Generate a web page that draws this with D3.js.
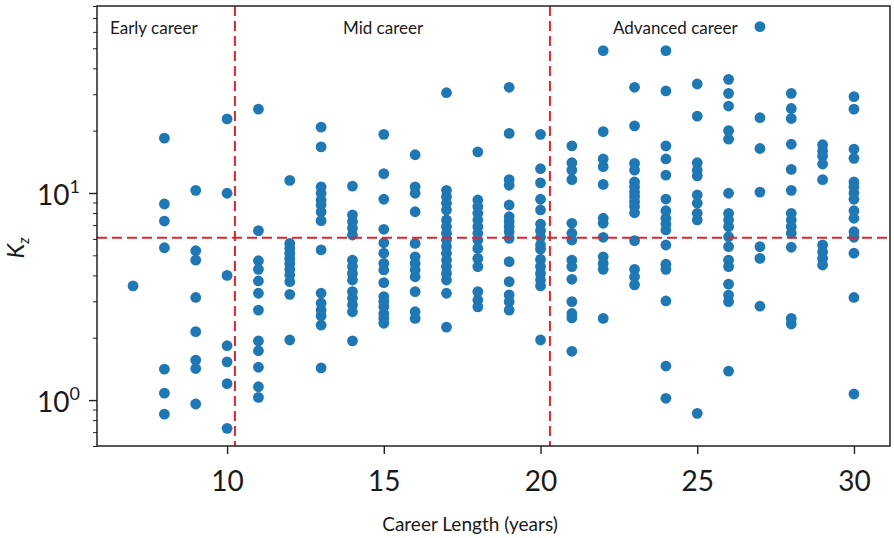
<!DOCTYPE html>
<html>
<head>
<meta charset="utf-8">
<script src="https://cdn.jsdelivr.net/npm/d3@7"></script>
<style>
  html, body { margin: 0; padding: 0; background: #fff; }
  svg { display: block; }
  text { font-family: Lato, "Open Sans", sans-serif; fill: #1a1a1a; }
</style>
</head>
<body>
<div id="chart"></div>
<script>
(() => {
  'use strict';

  // ── Data: one K_z column per career length ──
  const years = [7, 8, 9, 10, 11, 12, 13, 14, 15, 16, 17, 18, 19, 20, 21, 22, 23, 24, 25, 26, 27, 28, 29, 30];
  const kz = [
    [3.56],
    [18.4, 8.85, 7.32, 5.44, 1.41, 1.08, 0.855],
    [10.3, 5.26, 4.74, 3.13, 2.14, 1.56, 1.42, 0.957],
    [22.8, 9.97, 4.0, 1.83, 1.53, 1.2, 0.73],
    [25.4, 6.58, 4.71, 4.28, 3.76, 3.28, 2.72, 1.93, 1.73, 1.44, 1.16, 1.03],
    [11.5, 5.71, 5.4, 5.11, 4.83, 4.57, 4.28, 4.02, 3.73, 3.24, 1.95],
    [20.8, 16.7, 10.7, 9.97, 9.25, 8.75, 8.12, 7.35, 5.31, 3.28, 2.94, 2.72, 2.55, 2.3, 1.43],
    [10.8, 7.83, 7.27, 6.75, 6.27, 4.74, 4.41, 4.09, 3.8, 3.34, 3.1, 2.88, 2.67, 1.93],
    [19.2, 12.4, 9.33, 6.68, 5.75, 5.12, 4.57, 4.25, 3.69, 3.16, 2.99, 2.82, 2.62, 2.48, 2.35],
    [15.3, 10.7, 9.97, 8.12, 5.71, 4.92, 4.57, 4.25, 3.94, 3.34, 2.67, 2.48],
    [30.5, 10.3, 9.6, 8.92, 8.28, 7.41, 6.88, 6.39, 5.93, 5.51, 5.12, 4.74, 4.41, 4.09, 3.8, 3.28, 2.25],
    [15.8, 9.25, 8.59, 7.98, 7.41, 6.88, 6.39, 5.93, 5.4, 4.83, 4.41, 3.34, 3.04, 2.82],
    [32.4, 19.4, 11.6, 10.9, 8.75, 7.68, 7.27, 6.88, 6.5, 6.04, 4.66, 3.73, 3.22, 2.99, 2.72],
    [19.2, 13.1, 11.2, 9.33, 8.28, 7.08, 6.58, 6.11, 5.61, 5.35, 4.78, 4.41, 4.09, 3.8, 3.56, 1.95],
    [16.9, 14.0, 12.9, 11.6, 7.14, 6.39, 5.93, 4.74, 4.41, 3.83, 2.99, 2.62, 2.49, 1.72],
    [48.7, 19.8, 14.6, 13.4, 11.0, 7.55, 7.14, 6.11, 4.92, 4.57, 4.28, 2.48],
    [32.4, 21.1, 13.9, 12.9, 11.3, 10.7, 10.1, 9.6, 9.08, 8.59, 8.03, 5.89, 4.28, 3.94, 3.6],
    [48.7, 31.1, 16.9, 14.6, 12.2, 9.35, 8.21, 7.55, 7.08, 6.63, 5.61, 4.53, 4.28, 3.01, 1.46, 1.02],
    [33.6, 23.5, 14.0, 12.9, 12.1, 9.78, 8.92, 7.98, 7.41, 0.863],
    [35.4, 30.3, 26.3, 20.0, 18.2, 9.97, 7.98, 7.41, 6.88, 6.15, 5.51, 4.74, 4.41, 3.63, 3.21, 2.99, 1.38],
    [63.6, 23.1, 16.4, 10.1, 5.51, 4.83, 2.84],
    [30.3, 25.6, 22.9, 17.2, 13.0, 10.3, 7.98, 7.41, 6.88, 6.39, 5.47, 2.48, 2.33],
    [17.1, 16.0, 15.1, 13.8, 11.6, 5.61, 5.21, 4.83, 4.49],
    [29.2, 25.4, 16.3, 14.7, 11.3, 10.7, 10.0, 9.33, 8.21, 7.55, 6.5, 6.11, 5.12, 3.13, 1.07]
  ];

  // reference lines and region labels
  const careerBreaks = [10.25, 20.3];
  const kzThreshold  = 6.08;
  const regionLabels = ['Early career', 'Mid career', 'Advanced career'];
  const xTicks = [10, 15, 20, 25, 30];
  const yMajor = [1, 10];
  const yMinor = [0.6, 0.7, 0.8, 0.9, 2, 3, 4, 5, 6, 7, 8, 9, 20, 30, 40, 50, 60, 70, 80];

  const points = [];
  years.forEach((yr, i) => kz[i].forEach(v => points.push({ year: yr, kz: v })));

  // ── Layout ──
  const W = 894, H = 538;
  const plot = { left: 97, right: 890, top: 6, bottom: 446 };

  const svg = d3.select('#chart').append('svg')
    .attr('width', W).attr('height', H);

  const x = d3.scaleLinear().domain([5.85, 31.15]).range([plot.left, plot.right]);
  const y = d3.scaleLog().domain([0.6, 80]).range([plot.bottom, plot.top]);

  // ── Points ──
  svg.append('g')
    .selectAll('circle')
    .data(points)
    .join('circle')
    .attr('cx', d => x(d.year))
    .attr('cy', d => y(d.kz))
    .attr('r', 5.4)
    .attr('fill', '#1f77b4');

  // ── Dashed reference lines ──
  const red = '#e0252b';
  careerBreaks.forEach(v => {
    svg.append('line')
      .attr('x1', x(v)).attr('x2', x(v))
      .attr('y1', plot.top).attr('y2', plot.bottom)
      .attr('stroke', red).attr('stroke-width', 2)
      .attr('stroke-dasharray', '10 5');
  });
  svg.append('line')
    .attr('x1', plot.left).attr('x2', plot.right)
    .attr('y1', y(kzThreshold)).attr('y2', y(kzThreshold))
    .attr('stroke', red).attr('stroke-width', 2)
    .attr('stroke-dasharray', '10 5');

  // ── Axes ──
  const xAxis = svg.append('g')
    .attr('transform', `translate(0,${plot.bottom})`)
    .call(d3.axisBottom(x).tickValues(xTicks).tickSize(8).tickPadding(17).tickFormat(d3.format('d')));
  xAxis.select('.domain').remove();
  xAxis.selectAll('line').attr('stroke', '#222').attr('stroke-width', 1.4);
  xAxis.selectAll('text')
    .attr('font-family', 'Lato, "Open Sans", sans-serif')
    .attr('font-size', 28).attr('fill', '#1a1a1a');

  const yMinorAxis = svg.append('g')
    .attr('transform', `translate(${plot.left},0)`)
    .call(d3.axisLeft(y).tickValues(yMinor).tickSize(4).tickFormat(''));
  yMinorAxis.select('.domain').remove();
  yMinorAxis.selectAll('line').attr('stroke', '#222').attr('stroke-width', 1);

  const yAxis = svg.append('g')
    .attr('transform', `translate(${plot.left},0)`)
    .call(d3.axisLeft(y).tickValues(yMajor).tickSize(8).tickFormat(''));
  yAxis.select('.domain').remove();
  yAxis.selectAll('line').attr('stroke', '#222').attr('stroke-width', 1.4);

  // 10^n labels with superscript exponent
  yMajor.forEach(v => {
    const t = svg.append('text')
      .attr('x', 80).attr('y', y(v) + 12)
      .attr('text-anchor', 'end')
      .attr('font-size', 28);
    t.append('tspan').text('10');
    t.append('tspan').attr('font-size', 18).attr('dy', -12).text(Math.round(Math.log10(v)));
  });

  // frame
  svg.append('rect')
    .attr('x', plot.left).attr('y', plot.top)
    .attr('width', plot.right - plot.left).attr('height', plot.bottom - plot.top)
    .attr('fill', 'none').attr('stroke', '#222').attr('stroke-width', 1.5);

  // axis titles
  svg.append('text')
    .attr('x', 470).attr('y', 531)
    .attr('text-anchor', 'middle')
    .attr('font-size', 19)
    .text('Career Length (years)');

  const yTitle = svg.append('text')
    .attr('transform', 'translate(24,248) rotate(-90)')
    .attr('text-anchor', 'middle')
    .attr('font-family', '"DejaVu Sans", sans-serif')
    .attr('font-style', 'italic')
    .attr('font-size', 24);
  yTitle.append('tspan').text('K');
  yTitle.append('tspan').attr('font-size', 15).attr('dy', 5).text('z');

  // region labels
  const regionX = [110, 343, 613];
  regionLabels.forEach((label, i) => {
    svg.append('text')
      .attr('x', regionX[i]).attr('y', 34)
      .attr('font-size', 17)
      .text(label);
  });
})();
</script>
</body>
</html>
